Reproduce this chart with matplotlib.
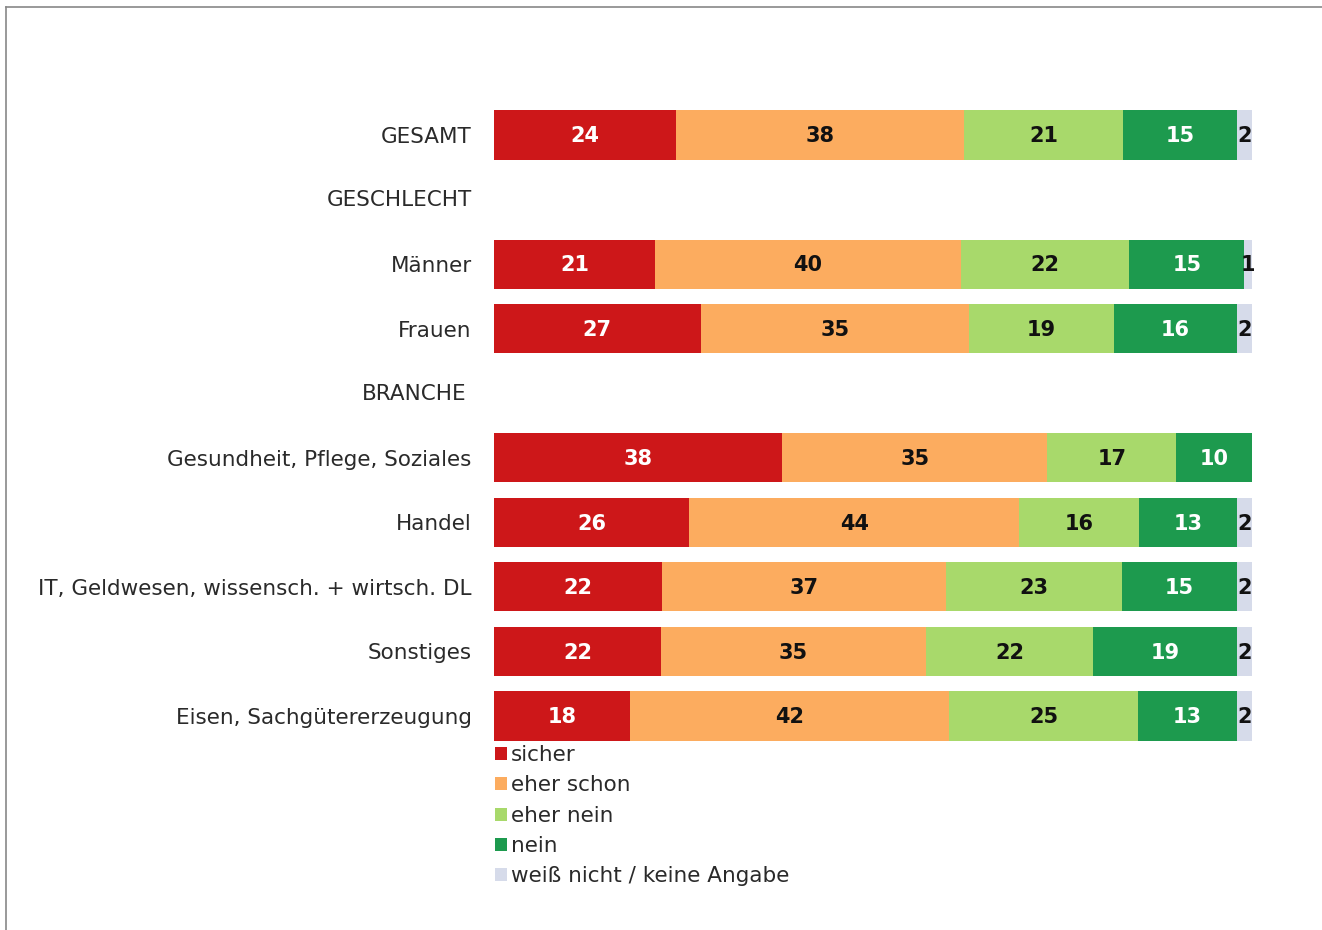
import numpy as np
import matplotlib
matplotlib.use("Agg")
import matplotlib.pyplot as plt
from matplotlib.patches import Patch
from matplotlib.lines import Line2D
import matplotlib.transforms as mtransforms

categories = ["GESAMT", "GESCHLECHT", "Männer", "Frauen", "BRANCHE",
              "Gesundheit, Pflege, Soziales", "Handel",
              "IT, Geldwesen, wissensch. + wirtsch. DL", "Sonstiges",
              "Eisen, Sachgütererzeugung"]
nan = np.nan
sicher     = [24, nan, 21, 27, nan, 38, 26, 22, 22, 18]
eher_schon = [38, nan, 40, 35, nan, 35, 44, 37, 35, 42]
eher_nein  = [21, nan, 22, 19, nan, 17, 16, 23, 22, 25]
nein       = [15, nan, 15, 16, nan, 10, 13, 15, 19, 13]
weiss      = [2, nan, 1, 2, nan, 0, 2, 2, 2, 2]
series_names = ["sicher", "eher schon", "eher nein", "nein", "weiß nicht / keine Angabe"]

colors = ["#CD1719", "#FCAC5F", "#A8D96B", "#1D9A4E", "#D6DBEA"]
text_colors = ["white", "#111111", "#111111", "white", "#111111"]

font = "DejaVu Sans"
plt.rcParams["font.family"] = [font]

fig = plt.figure(figsize=(13.22, 9.30), dpi=100)
W, H = 1322, 930
ax = fig.add_axes([494 / W, 1 - 748.3 / H, 758 / W, 645.6 / H])

series = [np.array(s, dtype=float) for s in (sicher, eher_schon, eher_nein, nein, weiss)]
totals = np.nansum(np.vstack(series), axis=0)
y = np.arange(len(categories))
left = np.zeros(len(categories))
for s, c, tc in zip(series, colors, text_colors):
    valid = ~np.isnan(s)
    widths = np.where(valid, s / np.where(totals == 0, 1, totals) * 100, 0)
    ax.barh(y[valid], widths[valid], left=left[valid], height=0.76, color=c,
            edgecolor="none")
    for yi, l, w, v in zip(y[valid], left[valid], widths[valid], s[valid]):
        if v > 0:
            ax.text(l + w / 2, yi + 0.02, f"{int(v)}", ha="center", va="center",
                    color=tc, fontsize=15, fontweight="heavy")
    left = left + widths

ax.set_xlim(0, 100)
ax.set_ylim(len(categories) - 0.5, -0.5)
ax.set_yticks(y)
ax.set_yticklabels(categories, fontsize=15.5, color="#2a2a2a")
ax.tick_params(axis="y", length=0, pad=16)
for lbl in ax.get_yticklabels():
    if lbl.get_text() == "GESCHLECHT":
        lbl.set_transform(lbl.get_transform() + mtransforms.ScaledTranslation(0, 2 / 100, fig.dpi_scale_trans))
    if lbl.get_text() == "BRANCHE":
        lbl.set_transform(lbl.get_transform() + mtransforms.ScaledTranslation(-5 / 100, 1 / 100, fig.dpi_scale_trans))
ax.set_xticks([])
for sp in ax.spines.values():
    sp.set_visible(False)

handles = [Patch(facecolor=c, edgecolor="none") for c in colors]
fig.legend(handles, series_names, loc="upper left",
           bbox_to_anchor=(495 / W, 1 - 745 / H), frameon=False,
           fontsize=15.5, handlelength=0.55, handleheight=0.55,
           handletextpad=0.2, labelspacing=0.48, borderaxespad=0,
           borderpad=0, labelcolor="#2a2a2a")

# outer frame
fig.add_artist(Line2D([6 / W, 6 / W], [0, 1 - 7 / H], transform=fig.transFigure,
                      color="#888888", lw=1.2))
fig.add_artist(Line2D([6 / W, 1], [1 - 7 / H, 1 - 7 / H], transform=fig.transFigure,
                      color="#888888", lw=1.2))

fig.savefig("out.png", dpi=100)
